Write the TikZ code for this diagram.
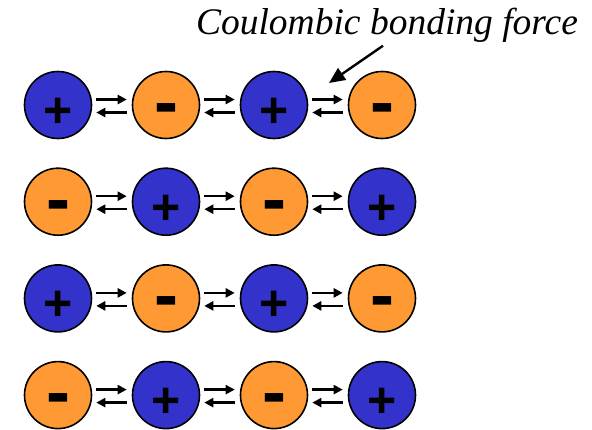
\documentclass[tikz,border=0pt]{standalone}
\usepackage{fontspec}
\setmainfont{Liberation Serif}
\newfontfamily\signfont{Liberation Sans}
\usetikzlibrary{arrows.meta,positioning}
\definecolor{ionblue}{RGB}{51,51,204}
\definecolor{ionorange}{RGB}{255,153,51}

\begin{document}
\begin{tikzpicture}[
  x=1pt, y=-1pt,
  node distance=28.1pt and 39.4pt,
  ion/.style={draw, circle, line width=1.6pt, minimum size=67pt, inner sep=0pt},
  cation/.style={ion, fill=ionblue, font=\signfont\bfseries\fontsize{50}{50}\selectfont, text height=45pt, text depth=0pt},
  anion/.style={ion, fill=ionorange, font=\signfont\bfseries\fontsize{72}{72}\selectfont, text height=43pt, text depth=0pt},
  arrow/.style={-{Triangle[length=9pt,width=9pt]}, line width=2.3pt},
  pointer/.style={-{Triangle[length=16pt,width=14pt]}, line width=2.4pt}
]
\useasboundingbox (0,0) rectangle (592,429);

% row 1
\node[cation] (ion11) at (58,105) {+};
\node[anion, right=of ion11] (ion12) {-};
\node[cation, right=of ion12] (ion13) {+};
\node[anion, right=of ion13] (ion14) {-};
% row 2
\node[anion, below=of ion11] (ion21) {-};
\node[cation, right=of ion21] (ion22) {+};
\node[anion, right=of ion22] (ion23) {-};
\node[cation, right=of ion23] (ion24) {+};
% row 3
\node[cation, below=of ion21] (ion31) {+};
\node[anion, right=of ion31] (ion32) {-};
\node[cation, right=of ion32] (ion33) {+};
\node[anion, right=of ion33] (ion34) {-};
% row 4
\node[anion, below=of ion31] (ion41) {-};
\node[cation, right=of ion41] (ion42) {+};
\node[anion, right=of ion42] (ion43) {-};
\node[cation, right=of ion43] (ion44) {+};

% forces between neighbours
\foreach \r in {1,2,3,4} {
  \foreach \a/\b in {1/2,2/3,3/4} {
    \draw[arrow, shorten <=4pt, shorten >=5pt] ([yshift=5.5pt]ion\r\a.east) -- ([yshift=5.5pt]ion\r\b.west);
    \draw[arrow, shorten <=5pt, shorten >=4pt] ([yshift=-7.5pt]ion\r\b.west) -- ([yshift=-7.5pt]ion\r\a.east);
  }
}

\node[font=\itshape\fontsize{37.5}{42}\selectfont] (bondlabel) at (387,25) {Coulombic bonding force};
\coordinate (bondtip) at (329,83);
\draw[pointer] ([xshift=-4pt]bondlabel.south) -- (bondtip);

\end{tikzpicture}
\end{document}
